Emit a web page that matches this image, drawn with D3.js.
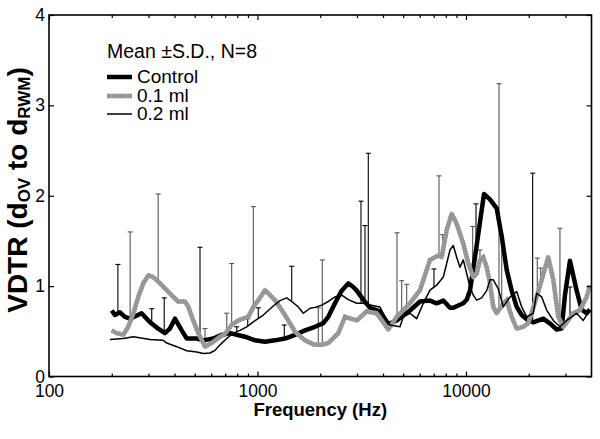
<!DOCTYPE html>
<html><head><meta charset="utf-8">
<script src="https://cdn.jsdelivr.net/npm/d3@7"></script>
<style>body{margin:0;background:#fff}svg{display:block}text{font-family:Arial,"Liberation Sans",sans-serif;fill:#000}</style>
</head><body><svg id="c" width="600" height="439"></svg>
<script>
// ---- data (Hz, VDTR) ----
const controlFreq = [200,207,219,231,245,278,305,334,360,380,402,433,458,511,550,614,673,738,871,973,1086,1213,1355,1513,1690,1887,2068,2186,2353,2534,2726,2881,2992,3217,3464,3868,4240,4652,5387,6017,6720,7236,7782,8380,8692,9707,10079,10452,11254,12200,13035,14040,14838,15679,16568,17508,18500,19900,21025,23482,25500,27230,28770,29840,31530,33960,35880,37920,39330];
const controlMean = [0.73,0.68,0.71,0.66,0.64,0.70,0.60,0.53,0.48,0.53,0.64,0.51,0.42,0.42,0.40,0.42,0.46,0.48,0.44,0.40,0.385,0.40,0.42,0.46,0.51,0.55,0.59,0.66,0.81,0.95,1.03,0.99,0.95,0.85,0.76,0.72,0.58,0.62,0.73,0.83,0.84,0.81,0.84,0.76,0.76,0.81,0.85,0.95,1.45,2.02,1.96,1.86,1.55,1.18,0.95,0.77,0.68,0.62,0.60,0.64,0.58,0.52,0.53,0.90,1.28,0.95,0.74,0.70,0.74];

const ml01Freq = [200,211,227,240,254,268,283,300,316,341,367,395,417,449,466,492,520,560,603,661,698,752,809,903,955,1009,1086,1148,1213,1307,1405,1513,1690,1887,2033,2186,2441,2629,2992,3340,3730,4240,4652,5387,6017,6720,7366,7648,8080,8540,9024,9707,10257,10840,11254,11670,12105,12570,13035,13520,14040,15100,15679,16568,17508,18830,19900,21830,23080,24810,26230,27720,29290,32710,35220,37920,39330];
const ml01Mean = [0.51,0.48,0.46,0.55,0.70,0.88,1.03,1.12,1.10,1.03,0.955,0.88,0.83,0.83,0.77,0.62,0.48,0.33,0.37,0.44,0.47,0.57,0.62,0.66,0.77,0.845,0.955,0.90,0.845,0.735,0.62,0.495,0.40,0.35,0.35,0.37,0.48,0.66,0.62,0.72,0.70,0.52,0.66,0.81,0.955,1.29,1.34,1.32,1.62,1.80,1.69,1.47,1.25,1.10,1.14,1.29,1.32,1.21,1.03,0.77,0.70,0.81,0.845,0.66,0.53,0.55,0.59,0.88,1.07,1.32,1.07,0.66,0.55,0.70,0.735,0.88,1.01];

const ml02Freq = [196,227,254,305,353,367,410,458,511,550,592,626,661,712,765,824,888,955,1066,1191,1282,1380,1459,1569,1659,1786,1887,2033,2186,2353,2534,2726,2992,3217,3464,3868,4166,4320,4826,5004,5387,5802,6241,6720,7236,7782,8080,8380,8692,9024,9359,9707,10079,10452,10840,11254,11890,12570,13035,13520,14290,15100,16255,17508,18500,19550,21025,21830,23080,24380,26230,28230,30410,33960,36520,39330];
const ml02Mean = [0.41,0.42,0.44,0.41,0.40,0.37,0.33,0.285,0.27,0.255,0.26,0.29,0.35,0.42,0.48,0.51,0.55,0.605,0.68,0.78,0.84,0.87,0.83,0.77,0.70,0.755,0.765,0.79,0.83,0.88,0.90,0.85,0.81,0.81,0.79,0.77,0.62,0.57,0.55,0.66,0.70,0.64,0.81,0.955,1.01,1.10,1.25,1.40,1.45,1.32,1.21,1.29,1.14,0.99,0.90,0.845,0.87,0.95,1.07,1.07,0.97,0.77,0.88,0.94,0.77,0.66,0.70,0.92,0.88,0.735,0.62,0.55,0.62,0.70,0.62,0.735];

// error bars: frequency and upper end (mean + S.D.)
const controlSDFreq = [214,311,357,530,1345,3278,11170,20890];
const controlUpper  = [1.24,0.75,0.87,1.43,0.57,1.67,1.91,2.25];
const ml01SDFreq = [245,334,560,712,752,955,1957,2046,4668,4916,5196,7421,7733,10768,11670,14400,14838,21980,22820,28230];
const ml01Upper  = [1.60,2.02,0.53,0.70,1.25,1.88,0.76,1.29,1.59,1.06,1.02,2.22,1.57,1.66,1.40,3.24,1.56,1.31,1.20,1.64];
const ml02SDFreq = [795,898,1009,1459,3136,3400,7022,31530];
const ml02Upper  = [0.55,0.64,0.76,1.22,1.94,2.47,1.19,0.99];

const yTicks = [0,1,2,3,4];
const xMajor = [100,1000,10000];
const xMinor = [200,300,400,500,600,700,800,900,2000,3000,4000,5000,6000,7000,8000,9000,20000,30000];
const legendTitle = "Mean \u00B1S.D., N=8";
const seriesNames = ["Control","0.1 ml","0.2 ml"];

// ---- drawing ----
const L=49,R=591.5,T=15,B=376.5;
const svg=d3.select("#c");
const x=d3.scaleLog().domain([100,40000]).range([L,R]);
const y=d3.scaleLinear().domain([0,4]).range([B,T]);
const zip=(f,v)=>f.map((d,i)=>[d,v[i]]);
const interp=(fs,vs,f)=>{
  for(let i=0;i<fs.length-1;i++){
    if(f>=fs[i]&&f<=fs[i+1]){const t=(Math.log(f)-Math.log(fs[i]))/(Math.log(fs[i+1])-Math.log(fs[i]));return vs[i]+t*(vs[i+1]-vs[i]);}
  }
  return f<fs[0]?vs[0]:vs[vs.length-1];
};
const line=d3.line().x(d=>x(d[0])).y(d=>y(d[1]));

const series=[
  {f:controlFreq,v:controlMean,sf:controlSDFreq,su:controlUpper,color:"#000",bar:"#000",w:4.5},
  {f:ml01Freq,v:ml01Mean,sf:ml01SDFreq,su:ml01Upper,color:"#a0a0a0",bar:"#555",w:4.5,dots:true},
  {f:ml02Freq,v:ml02Mean,sf:ml02SDFreq,su:ml02Upper,color:"#000",bar:"#000",w:1.5}
];

const plot=svg.append("g");
// error bars
series.forEach(s=>{
  const g=plot.append("g").attr("stroke",s.bar).attr("stroke-width",1.1).attr("fill","none");
  s.sf.forEach((f,i)=>{
    const base=interp(s.f,s.v,f), xp=x(f);
    g.append("line").attr("x1",xp).attr("x2",xp).attr("y1",y(base)).attr("y2",y(s.su[i]));
    g.append("line").attr("x1",xp-2.5).attr("x2",xp+2.5).attr("y1",y(s.su[i])).attr("y2",y(s.su[i]));
  });
});
// lines
series.forEach(s=>{
  const d=zip(s.f,s.v);
  plot.append("path").attr("d",line(d)).attr("fill","none").attr("stroke",s.color)
    .attr("stroke-width",s.w).attr("stroke-linejoin","round");
  if(s.dots){
    plot.append("path").attr("d",line(d)).attr("fill","none").attr("stroke","#8c8c8c")
      .attr("stroke-width",s.w).attr("stroke-dasharray","1,1.6");
  }
});

// axes
const fs="17.5px";
const ax=(gen,tr)=>{const g=svg.append("g").attr("transform",tr).call(gen);g.select(".domain").remove();
  g.selectAll("line").attr("stroke","#000").attr("stroke-width",1.2);
  g.selectAll("text").attr("font-size",fs).attr("font-family","Arial, 'Liberation Sans', sans-serif").attr("fill","#000");return g;};
ax(d3.axisBottom(x).tickValues(xMajor).tickSize(-5).tickPadding(8).tickFormat(d3.format("d")),`translate(0,${B})`);
ax(d3.axisBottom(x).tickValues(xMinor).tickSize(-3).tickFormat(""),`translate(0,${B})`);
ax(d3.axisTop(x).tickValues(xMajor).tickSize(-5).tickFormat(""),`translate(0,${T})`);
ax(d3.axisTop(x).tickValues(xMinor).tickSize(-3).tickFormat(""),`translate(0,${T})`);
ax(d3.axisLeft(y).tickValues(yTicks).tickSize(-5).tickPadding(4).tickFormat(d3.format("d")),`translate(${L},0)`);
ax(d3.axisRight(y).tickValues(yTicks).tickSize(-5).tickFormat(""),`translate(${R},0)`);
svg.append("rect").attr("x",L).attr("y",T).attr("width",R-L).attr("height",B-T)
  .attr("fill","none").attr("stroke","#000").attr("stroke-width",1.6);

// axis titles
svg.append("text").attr("x",(L+R)/2).attr("y",416).attr("text-anchor","middle")
  .attr("font-size","18.5px").attr("font-weight","bold").text("Frequency (Hz)");
const yt=svg.append("text").attr("transform","translate(27,190) rotate(-90)").attr("text-anchor","middle")
  .attr("font-size","28px").attr("font-weight","bold");
yt.append("tspan").text("VDTR (d");
yt.append("tspan").attr("font-size","17px").attr("dy",3).text("OV");
yt.append("tspan").attr("dy",-3).text(" to d");
yt.append("tspan").attr("font-size","17px").attr("dy",3).text("RWM");
yt.append("tspan").attr("dy",-3).text(")");

// legend
const lg=svg.append("g");
lg.append("text").attr("x",107).attr("y",58).attr("font-size","19.5px").text(legendTitle);
const ly=[77,96,114], lt=[83,102,120];
series.forEach((s,i)=>{
  lg.append("line").attr("x1",107).attr("x2",132).attr("y1",ly[i]).attr("y2",ly[i])
    .attr("stroke",s.color).attr("stroke-width",s.w);
  if(s.dots) lg.append("line").attr("x1",107).attr("x2",132).attr("y1",ly[i]).attr("y2",ly[i])
    .attr("stroke","#8c8c8c").attr("stroke-width",s.w).attr("stroke-dasharray","1,1.6");
  lg.append("text").attr("x",137).attr("y",lt[i]).attr("font-size","19px").text(seriesNames[i]);
});
</script></body></html>
